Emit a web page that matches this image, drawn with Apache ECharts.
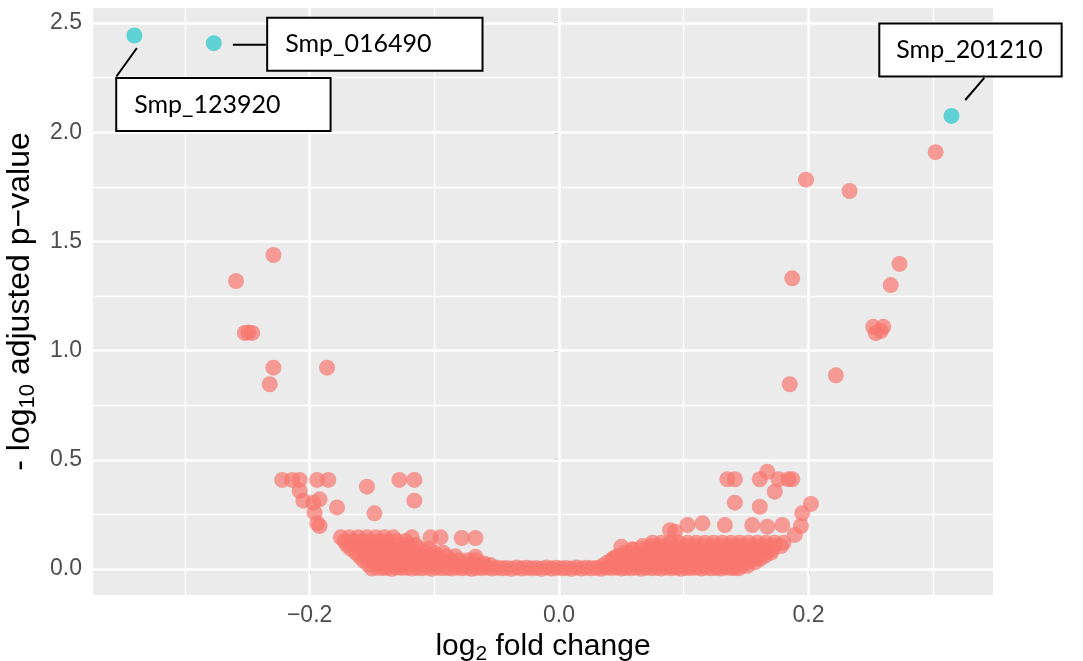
<!DOCTYPE html>
<html><head><meta charset="utf-8">
<script src="https://cdn.jsdelivr.net/npm/echarts@6/dist/echarts.min.js"></script>
<style>html,body{margin:0;padding:0;background:#fff}#c{width:1083px;height:661px}</style>
</head><body><div id="c"></div>
<script>
// ---- axis scales / ticks ----
const xRange = [-0.3737, 0.348];
const yRange = [-0.119, 2.569];
const xTickValues = [-0.2, 0, 0.2];
const xTickLabels = ['\u22120.2', '0.0', '0.2'];
const xMinorValues = [-0.3, -0.1, 0.1, 0.3];
const yTickValues = [0, 0.5, 1, 1.5, 2, 2.5];
const yTickLabels = ['0.0', '0.5', '1.0', '1.5', '2.0', '2.5'];
const yMinorValues = [0.25, 0.75, 1.25, 1.75, 2.25];

// ---- significant genes (blue) ----
const sigGenes = ['Smp_123920', 'Smp_016490', 'Smp_201210'];
const sigLogFC = [-0.3405, -0.2768, 0.3147];
const sigNegLogP = [2.443, 2.408, 2.075];

// ---- non-significant genes (red): [log2FC, -log10 padj] ----
const leftHigh = [[-0.259,1.319],[-0.229,1.438],[-0.252,1.081],[-0.246,1.081],[-0.249,1.083],[-0.229,0.922],[-0.232,0.846],[-0.186,0.922]];
const rightHigh = [[0.302,1.909],[0.198,1.783],[0.233,1.731],[0.273,1.397],[0.266,1.300],[0.187,1.331],[0.252,1.109],[0.260,1.109],[0.254,1.080],[0.258,1.090],[0.222,0.887],[0.185,0.846]];
const leftMid = [[-0.222,0.408],[-0.214,0.408],[-0.208,0.408],[-0.194,0.408],[-0.185,0.408],[-0.128,0.408],[-0.116,0.408],[-0.208,0.358],[-0.154,0.377],[-0.205,0.313],[-0.197,0.304],[-0.192,0.319],[-0.178,0.282],[-0.116,0.313],[-0.148,0.255],[-0.196,0.258],[-0.194,0.209],[-0.192,0.197]];
const rightMid = [[0.135,0.411],[0.141,0.411],[0.161,0.411],[0.176,0.411],[0.184,0.411],[0.187,0.411],[0.167,0.445],[0.173,0.354],[0.141,0.304],[0.161,0.285],[0.202,0.298],[0.195,0.255],[0.194,0.197],[0.133,0.201],[0.155,0.201],[0.167,0.194],[0.179,0.201],[0.103,0.201],[0.115,0.209],[0.093,0.171],[0.189,0.156],[0.089,0.178],[0.050,0.102],[0.059,0.087],[0.044,0.049]];
const baseBand = [
 [-0.150,0.002],[-0.142,0.004],[-0.134,0.001],[-0.126,0.005],[-0.118,0.002],[-0.110,0.003],[-0.102,0.001],[-0.094,0.004],[-0.086,0.002],[-0.078,0.003],[-0.070,0.001],[-0.062,0.004],[-0.054,0.002],[-0.046,0.003],[-0.038,0.001],[-0.030,0.002],[-0.022,0.003],[-0.014,0.001],[-0.006,0.002],[0.002,0.003],[0.010,0.001],[0.018,0.002],[0.026,0.003],[0.034,0.001],[0.042,0.004],[0.050,0.002],[0.058,0.003],[0.066,0.001],[0.074,0.004],[0.082,0.002],[0.090,0.003],[0.098,0.001],[0.106,0.004],[0.114,0.002],[0.122,0.003],[0.130,0.002],[0.138,0.004],[0.144,0.003],
 [-0.146,0.006],[-0.138,0.005],[-0.130,0.007],[-0.122,0.006],[-0.114,0.005],[-0.106,0.007],[-0.098,0.006],[-0.090,0.005],[-0.082,0.007],[-0.074,0.006],[-0.066,0.005],[-0.058,0.007],[-0.050,0.006],[-0.042,0.005],[-0.034,0.007],[-0.026,0.006],[-0.018,0.005],[-0.010,0.007],[-0.002,0.006],[0.006,0.005],[0.014,0.007],[0.022,0.006],[0.030,0.005],[0.038,0.007],[0.046,0.006],[0.054,0.005],[0.062,0.007],[0.070,0.006],[0.078,0.005],[0.086,0.007],[0.094,0.006],[0.102,0.005],[0.110,0.007],[0.118,0.006],[0.126,0.005],[0.134,0.007],[0.141,0.006]
];
const leftBand = [
 [-0.175,0.145],[-0.168,0.145],[-0.161,0.145],[-0.154,0.145],[-0.147,0.145],[-0.140,0.145],[-0.133,0.145],
 [-0.118,0.145],[-0.103,0.145],[-0.095,0.145],[-0.078,0.142],[-0.067,0.142],[-0.067,0.056],
 [-0.172,0.128],[-0.165,0.128],[-0.158,0.128],[-0.151,0.128],[-0.144,0.128],[-0.137,0.128],[-0.130,0.128],[-0.123,0.128],
 [-0.170,0.110],[-0.163,0.110],[-0.156,0.110],[-0.149,0.110],[-0.142,0.110],[-0.135,0.110],[-0.128,0.110],[-0.121,0.110],[-0.115,0.110],
 [-0.167,0.093],[-0.160,0.093],[-0.153,0.093],[-0.146,0.093],[-0.139,0.093],[-0.132,0.093],[-0.125,0.093],[-0.118,0.093],[-0.111,0.093],[-0.104,0.093],
 [-0.163,0.075],[-0.156,0.075],[-0.149,0.075],[-0.142,0.075],[-0.135,0.075],[-0.128,0.075],[-0.121,0.075],[-0.114,0.075],[-0.107,0.075],[-0.100,0.075],[-0.093,0.075],
 [-0.160,0.058],[-0.153,0.058],[-0.146,0.058],[-0.139,0.058],[-0.132,0.058],[-0.125,0.058],[-0.118,0.058],[-0.111,0.058],[-0.104,0.058],[-0.097,0.058],[-0.090,0.058],[-0.083,0.058],
 [-0.157,0.040],[-0.150,0.040],[-0.143,0.040],[-0.136,0.040],[-0.129,0.040],[-0.122,0.040],[-0.115,0.040],[-0.108,0.040],[-0.101,0.040],[-0.094,0.040],[-0.087,0.040],[-0.080,0.040],[-0.073,0.040],[-0.067,0.040],
 [-0.153,0.020],[-0.146,0.020],[-0.139,0.020],[-0.132,0.020],[-0.125,0.020],[-0.118,0.020],[-0.111,0.020],[-0.104,0.020],[-0.097,0.020],[-0.090,0.020],[-0.083,0.020],[-0.076,0.020],[-0.069,0.020],[-0.062,0.020],[-0.060,0.025],[-0.055,0.018]
];
const rightBand = [
 [0.075,0.120],[0.082,0.120],[0.089,0.120],[0.096,0.120],[0.103,0.120],[0.110,0.120],[0.117,0.120],[0.124,0.120],[0.131,0.120],[0.138,0.120],[0.145,0.120],[0.152,0.120],[0.159,0.120],[0.166,0.120],[0.173,0.120],[0.180,0.120],
 [0.067,0.105],[0.074,0.105],[0.081,0.105],[0.088,0.105],[0.095,0.105],[0.102,0.105],[0.109,0.105],[0.116,0.105],[0.123,0.105],[0.130,0.105],[0.137,0.105],[0.144,0.105],[0.151,0.105],[0.158,0.105],[0.165,0.105],[0.172,0.105],[0.178,0.105],
 [0.059,0.090],[0.066,0.090],[0.073,0.090],[0.080,0.090],[0.087,0.090],[0.094,0.090],[0.101,0.090],[0.108,0.090],[0.115,0.090],[0.122,0.090],[0.129,0.090],[0.136,0.090],[0.143,0.090],[0.150,0.090],[0.157,0.090],[0.164,0.090],[0.171,0.090],
 [0.053,0.075],[0.060,0.075],[0.067,0.075],[0.074,0.075],[0.081,0.075],[0.088,0.075],[0.095,0.075],[0.102,0.075],[0.109,0.075],[0.116,0.075],[0.123,0.075],[0.130,0.075],[0.137,0.075],[0.144,0.075],[0.151,0.075],[0.158,0.075],[0.165,0.075],[0.170,0.075],
 [0.047,0.060],[0.054,0.060],[0.061,0.060],[0.068,0.060],[0.075,0.060],[0.082,0.060],[0.089,0.060],[0.096,0.060],[0.103,0.060],[0.110,0.060],[0.117,0.060],[0.124,0.060],[0.131,0.060],[0.138,0.060],[0.145,0.060],[0.152,0.060],[0.159,0.060],[0.165,0.060],
 [0.043,0.045],[0.050,0.045],[0.057,0.045],[0.064,0.045],[0.071,0.045],[0.078,0.045],[0.085,0.045],[0.092,0.045],[0.099,0.045],[0.106,0.045],[0.113,0.045],[0.120,0.045],[0.127,0.045],[0.134,0.045],[0.141,0.045],[0.148,0.045],[0.155,0.045],[0.161,0.045],
 [0.039,0.030],[0.046,0.030],[0.053,0.030],[0.060,0.030],[0.067,0.030],[0.074,0.030],[0.081,0.030],[0.088,0.030],[0.095,0.030],[0.102,0.030],[0.109,0.030],[0.116,0.030],[0.123,0.030],[0.130,0.030],[0.137,0.030],[0.144,0.030],[0.151,0.030],[0.157,0.030],
 [0.035,0.015],[0.042,0.015],[0.049,0.015],[0.056,0.015],[0.063,0.015],[0.070,0.015],[0.077,0.015],[0.084,0.015],[0.091,0.015],[0.098,0.015],[0.105,0.015],[0.112,0.015],[0.119,0.015],[0.126,0.015],[0.133,0.015],[0.140,0.015],[0.147,0.015],[0.151,0.015]
];

// ---- layout (pixels) for the gene labels ----
const labelOffsets = [[89, 69], [161, 1], [19, -66]];
const labelPadding = [[13, 49, 13, 17], [13, 50, 13, 17], [13, 18, 13, 16]];
const connectorOffsets = [[2.5, 12.5, -18, 41], [19, 1.7, 52, 1.7], [13.8, -15.9, 32.8, -38]];

const FONT = 'Liberation Sans';
const chart = echarts.init(document.getElementById('c'), null, {renderer: 'canvas'});

function pick(vals, labels) {
  return v => { for (let i = 0; i < vals.length; i++) if (Math.abs(vals[i] - v) < 1e-9) return labels[i]; return ''; };
}

const gridLines = [].concat(
  xMinorValues.map(v => ({xAxis: v, lineStyle: {width: 1.3}})),
  yMinorValues.map(v => ({yAxis: v, lineStyle: {width: 1.3}})),
  xTickValues.map(v => ({xAxis: v, lineStyle: {width: 2.5}})),
  yTickValues.map(v => ({yAxis: v, lineStyle: {width: 2.5}}))
);

const redData = [].concat(baseBand, leftBand, rightBand, leftMid, rightMid, leftHigh, rightHigh);

const sigData = sigGenes.map((g, i) => ({
  name: g,
  value: [sigLogFC[i], sigNegLogP[i]],
  label: {offset: labelOffsets[i], rich: {box: {padding: labelPadding[i]}}}
}));

const titleRich = (size, sub) => ({
  a: {fontSize: size, lineHeight: size + 5, fontFamily: FONT, color: '#000'},
  s: {fontSize: sub, lineHeight: sub, verticalAlign: 'bottom', fontFamily: FONT, color: '#000'}
});

const option = {
  animation: false,
  backgroundColor: '#ffffff',
  grid: {left: 93, right: 90, top: 8, bottom: 66, show: true, backgroundColor: '#EBEBEB', borderWidth: 0, containLabel: false, outerBoundsMode: 'none'},
  xAxis: {
    type: 'value', min: xRange[0], max: xRange[1],
    axisLine: {show: false},
    axisTick: {show: true, customValues: xTickValues, length: 5, lineStyle: {color: '#333333', width: 1.5}},
    axisLabel: {customValues: xTickValues, formatter: pick(xTickValues, xTickLabels), color: '#4D4D4D', fontSize: 23, fontFamily: FONT, margin: 9},
    splitLine: {show: false},
    name: '{a|log}{s|2}{a| fold change}', nameLocation: 'middle', nameGap: 29,
    nameTextStyle: {color: '#000', fontFamily: FONT, fontSize: 30, rich: titleRich(30, 21)}
  },
  yAxis: {
    type: 'value', min: yRange[0], max: yRange[1],
    axisLine: {show: false},
    axisTick: {show: true, customValues: yTickValues, length: 5, lineStyle: {color: '#333333', width: 1.5}},
    axisLabel: {customValues: yTickValues, formatter: pick(yTickValues, yTickLabels), color: '#4D4D4D', fontSize: 23, fontFamily: FONT, margin: 11},
    splitLine: {show: false},
    name: '{a|- log}{s|10}{a| adjusted p\u2212value}', nameLocation: 'middle', nameGap: 50,
    nameTextStyle: {color: '#000', fontFamily: FONT, fontSize: 32, rich: titleRich(32, 22)}
  },
  series: [
    {type: 'scatter', data: [], silent: true, z: 1,
     markLine: {silent: true, z: 1, symbol: ['none', 'none'], animation: false, label: {show: false},
                lineStyle: {color: '#ffffff', type: 'solid', opacity: 1}, emphasis: {disabled: true}, data: gridLines}},
    {type: 'scatter', data: redData, symbol: 'circle', symbolSize: 16, silent: true, z: 2,
     itemStyle: {color: 'rgba(248,118,109,0.88)'}},
    {type: 'scatter', data: sigData, symbol: 'circle', symbolSize: 16, silent: true, z: 3,
     itemStyle: {color: 'rgba(0,191,196,0.75)'},
     label: {show: true, position: 'inside', formatter: '{box|{b}}', opacity: 1,
             textShadowBlur: 0, textShadowColor: 'transparent', textBorderWidth: 0,
             rich: {box: {color: '#000', fontFamily: 'Lato', fontSize: 25, lineHeight: 28,
                          backgroundColor: '#ffffff', borderColor: '#000000', borderWidth: 2,
                          shadowBlur: 0, shadowColor: 'transparent', shadowOffsetX: 0, shadowOffsetY: 0,
                          textShadowBlur: 0, textShadowColor: 'transparent', textBorderWidth: 0}}}}
  ]
};
chart.setOption(option);

const connectors = sigGenes.map((g, i) => {
  const p = chart.convertToPixel({seriesIndex: 2}, [sigLogFC[i], sigNegLogP[i]]);
  const c = connectorOffsets[i];
  return {type: 'line', silent: true, z: 100,
          shape: {x1: p[0] + c[0], y1: p[1] + c[1], x2: p[0] + c[2], y2: p[1] + c[3]},
          style: {stroke: '#000', lineWidth: 2}};
});
chart.setOption({graphic: connectors});
</script>
</body></html>
